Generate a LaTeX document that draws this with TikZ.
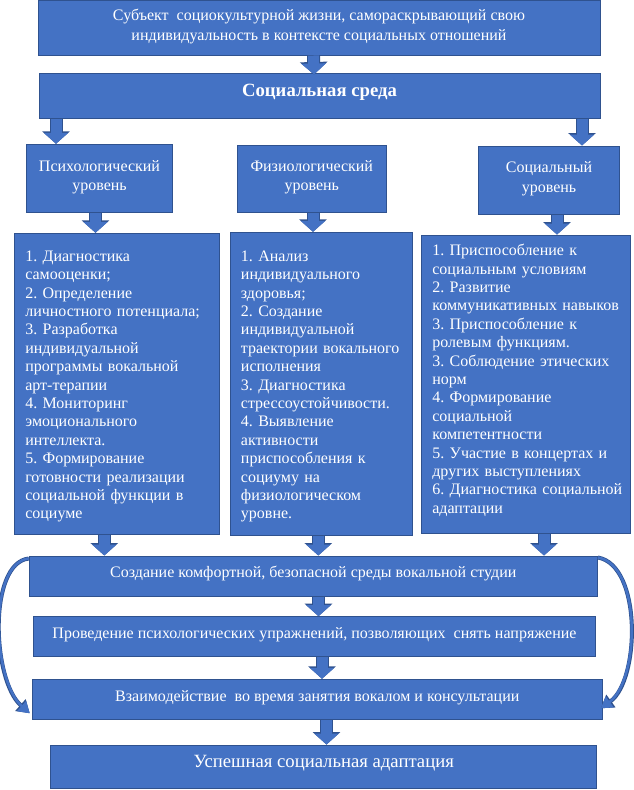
\documentclass[tikz,border=0pt]{standalone}
\usepackage{fontspec}
\setmainfont{Liberation Serif}
\frenchspacing
\usetikzlibrary{arrows.meta}
\definecolor{boxblue}{HTML}{4472C4}
\definecolor{edgeblue}{HTML}{2F528F}

\begin{document}
\begin{tikzpicture}[x=1pt,y=-1pt,
	box/.style={draw=edgeblue,line width=1pt,fill=boxblue,text=white,align=center,inner sep=0pt,font=\fontsize{16}{20}\selectfont},
	listbox/.style={box,align=left,inner xsep=11pt,font=\fontsize{16}{18.4}\selectfont},
	blockarrow/.style={draw=boxblue,line width=11pt,-{Triangle[length=11pt,width=24pt]},
		preaction={draw=edgeblue,line width=13pt,-{Triangle[length=12.5pt,width=27pt]}}},
	loopback/.style={draw=boxblue,line width=2.5pt,-{Triangle[length=11pt,width=13pt]},
		preaction={draw=edgeblue,line width=4pt,-{Triangle[length=12.5pt,width=15pt]}}}]
	\useasboundingbox (0,0) rectangle (634,790);
	\node[box,minimum width=562,minimum height=55,text height=29pt,text depth=4pt] (t0) at (319,27.5) {Субъект\ \ социокультурной жизни, самораскрывающий свою\\индивидуальность в контексте социальных отношений};
	\node[box,minimum width=561,minimum height=45,text height=13pt,text depth=12pt,font=\bfseries\fontsize{18.7}{22}\selectfont] (t1) at (319.5,95.5) {Социальная среда};
	\node[box,minimum width=145.6,minimum height=68,text height=27.6pt,text depth=4pt,font=\fontsize{16}{19}\selectfont] (u1) at (99.5,178.3) {Психологический\\уровень};
	\node[box,minimum width=149,minimum height=67,text height=27.6pt,text depth=4pt,font=\fontsize{16}{19}\selectfont] (u2) at (311.8,178.8) {Физиологический\\уровень};
	\node[box,minimum width=141.4,minimum height=68,text height=28.2pt,text depth=4pt,font=\fontsize{16}{20}\selectfont] (u3) at (549,180) {Социальный\\уровень};
	\node[listbox,text width=183,minimum height=301,text height=11pt,text depth=256pt] (l1) at (116.8,383.8) {1. Диагностика\\самооценки;\\2. Определение\\личностного потенциала;\\3. Разработка\\индивидуальной\\программы вокальной\\арт-терапии\\4. Мониторинг\\эмоционального\\интеллекта.\\5. Формирование\\готовности реализации\\социальной функции в\\социуме};
	\node[listbox,inner xsep=10pt,text width=161.7,minimum height=302.7,text height=11pt,text depth=256pt] (l2) at (321.8,383.7) {1. Анализ\\индивидуального\\здоровья;\\2. Создание\\индивидуальной\\траектории вокального\\исполнения\\3. Диагностика\\стрессоустойчивости.\\4. Выявление\\активности\\приспособления к\\социуму на\\физиологическом\\уровне.};
	\node[listbox,text width=186.7,minimum height=298.3,text height=11pt,text depth=268pt] (l3) at (525.7,384.2) {1. Приспособление к\\социальным условиям\\2. Развитие\\\mbox{коммуникативных навыков}\\3. Приспособление к\\ролевым функциям.\\3. Соблюдение этических\\норм\\4. Формирование\\социальной\\компетентности\\5. Участие в концертах и\\других выступлениях\\\mbox{6. Диагностика социальной}\\адаптации};
	\node[box,minimum width=568,minimum height=40,text height=11pt,text depth=8pt] (p1) at (313.3,576) {Создание комфортной, безопасной среды вокальной студии};
	\node[box,minimum width=562.4,minimum height=40,text height=11pt,text depth=8pt] (p2) at (314.5,636.7) {Проведение психологических упражнений, позволяющих\ \ снять напряжение};
	\node[box,minimum width=570,minimum height=40,text height=11pt,text depth=7.5pt] (p3) at (317.3,699.3) {Взаимодействие\ \ во время занятия вокалом и консультации};
	\node[box,minimum width=546,minimum height=43.3,text height=13pt,text depth=11pt,font=\fontsize{18.7}{22}\selectfont] (r) at (323.7,766.7) {Успешная социальная адаптация};
	\path[every edge/.style=blockarrow]
	([xshift=-5.5]t0.south) edge ([xshift=-5.5,yshift=-2]t1.north)
	([xshift=17.5]t1.south west) edge ([xshift=17.5]t1.south west |- u1.north)
	([xshift=-18.5]t1.south east) edge ([xshift=-18.5]t1.south east |- u3.north)
	([xshift=-4]u1.south) edge ([xshift=-4]u1.south |- l1.north)
	([xshift=1.2]u2.south) edge ([xshift=1.2]u2.south |- l2.north)
	([xshift=8]u3.south) edge ([xshift=8]u3.south |- l3.north)
	([xshift=-12.5]l1.south) edge ([xshift=-12.5]l1.south |- p1.north)
	([xshift=-3.5]l2.south) edge ([xshift=-3.5]l2.south |- p1.north)
	([xshift=18.3]l3.south) edge ([xshift=18.3]l3.south |- p1.north)
	([xshift=5.2]p1.south) edge ([xshift=5.2]p1.south |- p2.north)
	([xshift=7.5]p2.south) edge ([xshift=7.5]p2.south |- p3.north)
	([xshift=9.2]p3.south) edge ([xshift=9.2]p3.south |- r.north);
	\draw[loopback] ([yshift=-3]p1.north west) .. controls (-12,563) and (-8,680) .. ([xshift=-2,yshift=-14]p3.west);
	\draw[loopback] ([yshift=-2]p1.north east) .. controls (642,565) and (640,680) .. ([xshift=-2,yshift=-9]p3.east);
\end{tikzpicture}
\end{document}
